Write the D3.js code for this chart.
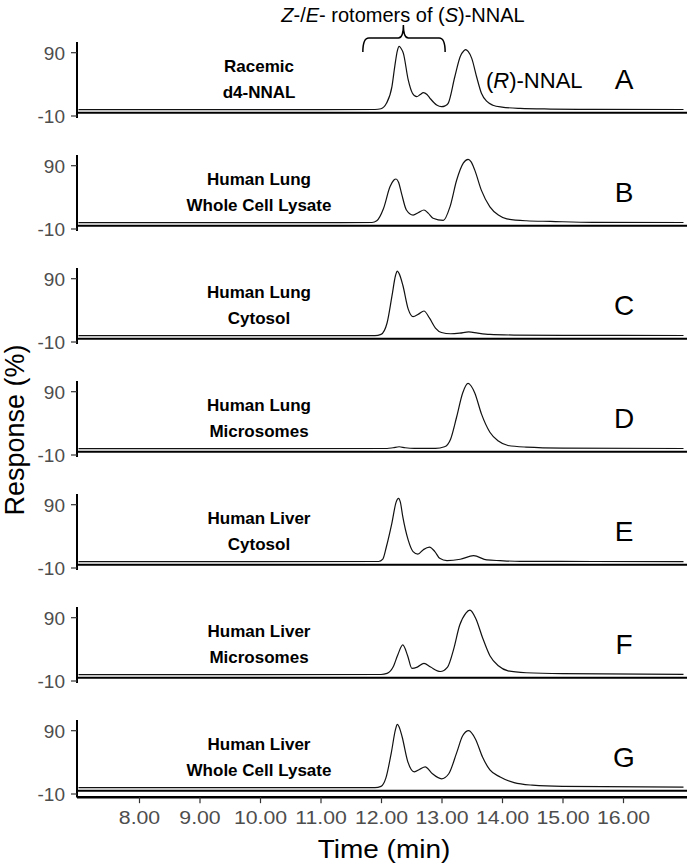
<!DOCTYPE html>
<html><head><meta charset="utf-8">
<script src="https://cdn.jsdelivr.net/npm/d3@7"></script>
<style>body{margin:0;background:#fff}svg{display:block}</style>
</head><body>
<script>
const panelLetters = ["A","B","C","D","E","F","G"];
const sampleLabels = [
  ["Racemic","d4-NNAL"],
  ["Human Lung","Whole Cell Lysate"],
  ["Human Lung","Cytosol"],
  ["Human Lung","Microsomes"],
  ["Human Liver","Cytosol"],
  ["Human Liver","Microsomes"],
  ["Human Liver","Whole Cell Lysate"]
];
const xTicks = [8,9,10,11,12,13,14,15,16];
const yTicks = [90,-10];

const traceA = [[7,0],[11,0],[11.9,0.3],[12.0,1.5],[12.09,10],[12.18,36],[12.23,70],[12.27,93],[12.30,100],[12.33,97],[12.37,89],[12.45,47],[12.52,26],[12.59,20.5],[12.65,24],[12.70,27],[12.76,24],[12.81,18],[12.92,7.4],[13.00,4.7],[13.06,6],[13.11,10],[13.22,52],[13.31,84],[13.37,93],[13.40,95],[13.44,92],[13.50,81],[13.58,52],[13.66,26],[13.75,13],[13.85,7],[14.0,4],[14.3,2],[14.8,1],[15.5,0.5],[17,0.3]];
const traceB = [[7,0],[11,0],[11.85,0.3],[11.93,3],[12.04,22],[12.15,57],[12.21,67],[12.25,69],[12.29,64],[12.34,46],[12.42,20],[12.53,12],[12.62,16],[12.71,20],[12.78,15],[12.86,7],[13.03,3.5],[13.14,25],[13.25,67],[13.36,94],[13.44,100],[13.49,96],[13.55,83],[13.66,51],[13.80,25],[13.94,12],[14.08,6],[14.4,3],[14.8,2],[15.5,0.5],[17,0.3]];
const traceC = [[7,0],[11.9,0],[12.0,2],[12.1,20],[12.18,62],[12.24,95],[12.27,102],[12.30,98],[12.36,80],[12.45,42],[12.53,30],[12.62,34],[12.71,39],[12.8,28],[12.9,12],[13.0,5],[13.15,3],[13.3,4],[13.45,6],[13.6,4],[13.8,2],[14.2,1],[15,0.5],[17,0.3]];
const traceD = [[7,0],[12.1,0.3],[12.2,1.5],[12.3,3],[12.4,1.5],[12.55,0.5],[12.9,0.5],[13.05,3],[13.15,15],[13.25,50],[13.35,88],[13.44,103],[13.49,99],[13.55,88],[13.66,55],[13.8,26],[13.94,12],[14.1,5],[14.4,2.5],[15,1],[17,0.3]];
const traceE = [[7,0],[11.96,0.3],[12.03,4],[12.09,24],[12.18,61],[12.25,94],[12.29,100],[12.32,94],[12.36,71],[12.45,34],[12.53,16],[12.61,12],[12.70,19],[12.80,23],[12.89,16],[12.97,5.3],[13.09,1.6],[13.31,3.8],[13.53,9.5],[13.75,2.7],[13.97,1.6],[14.3,0.5],[15.5,0.3],[17,0.2]];
const traceF = [[7,0],[12.0,0.3],[12.1,2],[12.2,12],[12.28,32],[12.36,47],[12.44,30],[12.51,10],[12.6,12],[12.71,18],[12.82,12],[12.98,5],[13.1,12],[13.2,40],[13.3,78],[13.4,97],[13.47,102],[13.57,88],[13.68,58],[13.8,30],[13.94,14],[14.1,6],[14.4,3],[15,1.5],[17,0.5]];
const traceG = [[7,0],[11.9,0],[12.0,2],[12.08,15],[12.17,55],[12.24,92],[12.27,100],[12.30,96],[12.35,80],[12.44,42],[12.55,25],[12.64,29],[12.73,33],[12.85,22],[13.0,14],[13.12,22],[13.25,55],[13.35,82],[13.45,90],[13.56,77],[13.68,48],[13.8,28],[13.97,17],[14.2,8],[14.5,4],[15,2],[17,1]];
const traces = [traceA,traceB,traceC,traceD,traceE,traceF,traceG];

const W = 687, H = 868;
const FONT = "'Liberation Sans', Arial, sans-serif";
const svg = d3.select("body").append("svg").attr("width",W).attr("height",H)
  .style("font-family",FONT);

const x = d3.scaleLinear().domain([7,17]).range([78.5,683.5]);
const panelStep = 113;
const axisX = 77;
const tickGray = "#4d4d4d";

traces.forEach((tr,k)=>{
  const y = d3.scaleLinear().domain([-10,90]).range([116+panelStep*k, 52.7+panelStep*k]);
  const g = svg.append("g");
  g.append("line").attr("x1",axisX).attr("x2",axisX).attr("y1",y(107)).attr("y2", k===6 ? y(-15.5) : y(-13))
    .attr("stroke","#000").attr("stroke-width",2);
  yTicks.forEach(v=>{
    g.append("line").attr("x1",axisX-6).attr("x2",axisX).attr("y1",y(v)).attr("y2",y(v)).attr("stroke","#333").attr("stroke-width",1.2);
    g.append("text").attr("x",axisX-12).attr("y",y(v)).attr("dy","0.36em").attr("text-anchor","end")
      .attr("fill",tickGray).attr("font-size",19).text(v);
  });
  g.append("line").attr("x1",axisX).attr("x2",W).attr("y1",y(-5)).attr("y2",y(-5)).attr("stroke","#000").attr("stroke-width",2);
  const line = d3.line().x(d=>x(d[0])).y(d=>y(d[1])).curve(d3.curveMonotoneX);
  g.append("path").datum(tr).attr("d",line).attr("fill","none").attr("stroke","#111").attr("stroke-width",1.2);
  const lab = sampleLabels[k];
  const ly = [66+panelStep*k, 92+panelStep*k];
  lab.forEach((s,i)=>{
    g.append("text").attr("x",259).attr("y",ly[i]).attr("dy","0.36em").attr("text-anchor","middle")
      .attr("font-weight","bold").attr("font-size",17).attr("fill","#000").text(s);
  });
  g.append("text").attr("x",624).attr("y",y(49)).attr("dy","0.36em").attr("text-anchor","middle")
    .attr("font-size",28).attr("fill","#000").text(panelLetters[k]);

  if(k===6){
    const ax = svg.append("g").attr("transform",`translate(0,${y(-15)})`)
      .call(d3.axisBottom(x).tickValues(xTicks).tickSize(6).tickPadding(7).tickFormat(d3.format(".2f")));
    ax.select(".domain").attr("d",`M${axisX},0H${W}`).attr("stroke","#000").attr("stroke-width",2.5);
    ax.selectAll(".tick line").attr("stroke","#333").attr("stroke-width",1.2);
    ax.selectAll(".tick text").attr("fill",tickGray).attr("font-size",19).attr("font-family",FONT)
      .attr("transform","scale(1.12,1)")
      .attr("x", 0);
  }
});

svg.append("text").attr("transform","translate(384,858) scale(1.12,1)").attr("text-anchor","middle").attr("font-size",25).attr("fill","#000").text("Time (min)");
svg.append("text").attr("transform","translate(24,430) rotate(-90)").attr("text-anchor","middle").attr("font-size",27).attr("fill","#000").text("Response (%)");

const ann = svg.append("text").attr("x",403).attr("y",22).attr("text-anchor","middle").attr("font-size",20).attr("fill","#000");
ann.append("tspan").attr("font-style","italic").text("Z");
ann.append("tspan").text("-/");
ann.append("tspan").attr("font-style","italic").text("E");
ann.append("tspan").text("- rotomers of (");
ann.append("tspan").attr("font-style","italic").text("S");
ann.append("tspan").text(")-NNAL");

const bx0 = x(11.7), bx1 = x(13.06), bxm = x(12.37);
svg.append("path").attr("d",`M${bx0},52 Q${bx0},38 ${bx0+6},38 L${bxm-5},38 Q${bxm},38 ${bxm},25 Q${bxm},38 ${bxm+5},38 L${bx1-6},38 Q${bx1},38 ${bx1},52`)
  .attr("fill","none").attr("stroke","#000").attr("stroke-width",1.5);

const rn = svg.append("text").attr("x",486).attr("y",80).attr("dy","0.36em").attr("font-size",22).attr("fill","#000");
rn.append("tspan").text("(");
rn.append("tspan").attr("font-style","italic").text("R");
rn.append("tspan").text(")-NNAL");
</script>
</body></html>
